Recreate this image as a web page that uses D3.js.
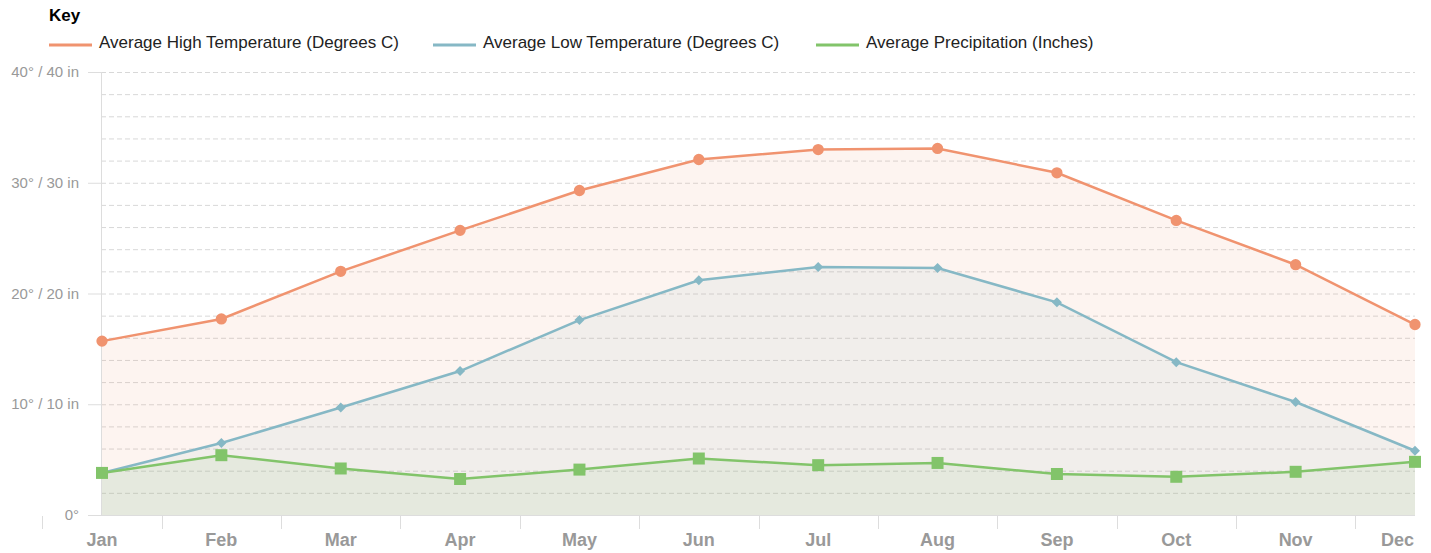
<!DOCTYPE html>
<html>
<head>
<meta charset="utf-8">
<script src="https://cdn.jsdelivr.net/npm/d3@7"></script>
<style>
  body { margin: 0; background: #fff; font-family: "Liberation Sans", Arial, sans-serif; }
  svg text { font-family: "Liberation Sans", Arial, sans-serif; }
  .grid line { stroke: #d8d8d8; stroke-dasharray: 5,3; }
  .lbl { fill: #999; font-size: 15px; }
  .month { fill: #999; font-size: 18px; font-weight: bold; }
</style>
</head>
<body>
<div id="chart"></div>
<script>
var width = 1431,
    height = 553;
var margin = {top: 72, right: 16, bottom: 38, left: 101};

var months = ["Jan", "Feb", "Mar", "Apr", "May", "Jun", "Jul", "Aug", "Sep", "Oct", "Nov", "Dec"];
var highTemp = [15.7, 17.7, 22.0, 25.7, 29.3, 32.1, 33.0, 33.1, 30.9, 26.6, 22.6, 17.2];
var lowTemp = [3.8, 6.5, 9.7, 13.0, 17.6, 21.2, 22.4, 22.3, 19.2, 13.8, 10.2, 5.8];
var precip = [3.8, 5.4, 4.2, 3.25, 4.1, 5.1, 4.5, 4.7, 3.7, 3.45, 3.9, 4.8];
var yTicks = [0, 10, 20, 30, 40];
var yTickLabels = ["0°", "10° / 10 in", "20° / 20 in", "30° / 30 in", "40° / 40 in"];
var seriesNames = ["Average High Temperature (Degrees C)", "Average Low Temperature (Degrees C)", "Average Precipitation (Inches)"];
var colors = ["#f0936f", "#86b8c5", "#82c46a"];

var svg = d3.select("#chart").append("svg")
  .attr("width", width)
  .attr("height", height);

var x = d3.scalePoint()
  .domain(months)
  .range([margin.left + 1, width - margin.right]);
var step = x.step();

var y = d3.scaleLinear()
  .domain([0, 40])
  .range([height - margin.bottom, margin.top]);

// minor gridlines every 2
var grid = svg.append("g").attr("class", "grid");
grid.selectAll("line")
  .data(d3.range(2, 41, 2))
  .enter().append("line")
  .attr("x1", margin.left)
  .attr("x2", width - margin.right)
  .attr("y1", function(d) { return y(d) + 0.5; })
  .attr("y2", function(d) { return y(d) + 0.5; });

// y tick marks + labels
svg.selectAll(".ytick")
  .data(yTicks)
  .enter().append("line")
  .attr("x1", margin.left - 13)
  .attr("x2", margin.left)
  .attr("y1", function(d) { return y(d) + 0.5; })
  .attr("y2", function(d) { return y(d) + 0.5; })
  .attr("stroke", "#ddd");

svg.selectAll(".ylbl")
  .data(yTicks)
  .enter().append("text")
  .attr("class", "lbl")
  .attr("x", margin.left - 22)
  .attr("y", function(d) { return y(d) + 5; })
  .attr("text-anchor", "end")
  .text(function(d, i) { return yTickLabels[i]; });

// areas, drawn back to front
var series = [highTemp, lowTemp, precip];
series.forEach(function(vals, i) {
  var area = d3.area()
    .x(function(d, j) { return x(months[j]); })
    .y0(y(0))
    .y1(function(d) { return y(d); });
  svg.append("path")
    .datum(vals)
    .attr("d", area)
    .attr("fill", colors[i])
    .attr("fill-opacity", 0.1);
});

// axes lines
svg.append("line")
  .attr("x1", margin.left + 0.5).attr("x2", margin.left + 0.5)
  .attr("y1", y(40)).attr("y2", y(0))
  .attr("stroke", "#ddd");
svg.append("line")
  .attr("x1", margin.left).attr("x2", width - margin.right)
  .attr("y1", y(0) + 0.5).attr("y2", y(0) + 0.5)
  .attr("stroke", "#ddd");

// x ticks between months
var xTicks = d3.range(0, 13).map(function(i) { return x(months[0]) - step / 2 + i * step; });
svg.selectAll(".xtick")
  .data(xTicks)
  .enter().append("line")
  .attr("x1", function(d) { return Math.round(d) + 0.5; })
  .attr("x2", function(d) { return Math.round(d) + 0.5; })
  .attr("y1", y(0) + 1)
  .attr("y2", y(0) + 14)
  .attr("stroke", "#ddd");

svg.selectAll(".month")
  .data(months)
  .enter().append("text")
  .attr("class", "month")
  .attr("x", function(d, i) { return i == months.length - 1 ? x(d) - 1 : x(d); })
  .attr("y", 546)
  .attr("text-anchor", function(d, i) { return i == months.length - 1 ? "end" : "middle"; })
  .text(function(d) { return d; });

// lines and markers
var line = d3.line()
  .x(function(d, j) { return x(months[j]); })
  .y(function(d) { return y(d); });

var symbols = [d3.symbolCircle, d3.symbolSquare, d3.symbolSquare];
var symSizes = [100, 50, 144];
var symRotate = [0, 45, 0];

series.forEach(function(vals, i) {
  svg.append("path")
    .datum(vals)
    .attr("d", line)
    .attr("fill", "none")
    .attr("stroke", colors[i])
    .attr("stroke-width", 2.5);
  svg.selectAll(".m" + i)
    .data(vals)
    .enter().append("path")
    .attr("d", d3.symbol().type(symbols[i]).size(symSizes[i]))
    .attr("transform", function(d, j) {
      return "translate(" + x(months[j]) + "," + y(d) + ") rotate(" + symRotate[i] + ")";
    })
    .attr("fill", colors[i]);
});

// legend
svg.append("text")
  .attr("x", 49).attr("y", 21)
  .style("font-size", "17px").style("font-weight", "bold")
  .text("Key");

var legendX = [49, 433, 816];
var legend = svg.selectAll(".legend")
  .data(seriesNames)
  .enter().append("g")
  .attr("transform", function(d, i) { return "translate(" + legendX[i] + ",45)"; });
legend.append("line")
  .attr("x1", 0).attr("x2", 43)
  .attr("stroke", function(d, i) { return colors[i]; })
  .attr("stroke-width", 3);
legend.append("text")
  .attr("x", 50).attr("y", 3)
  .style("font-size", "17px")
  .attr("fill", "#222")
  .text(function(d) { return d; });
</script>
</body>
</html>
